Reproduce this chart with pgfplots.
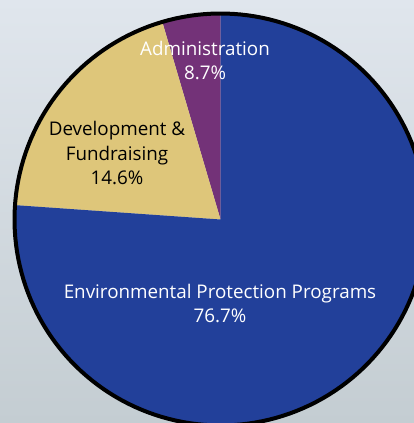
\documentclass[border=0pt]{standalone}
\usepackage{pgfplots}
\pgfplotsset{compat=1.18}
\usepackage{fontspec}
\setmainfont{Open Sans}

\definecolor{envblue}{RGB}{34,64,154}
\definecolor{admpurple}{RGB}{115,50,120}
\definecolor{devyellow}{RGB}{222,198,122}
\definecolor{bgtop}{RGB}{224,230,237}
\definecolor{bgbot}{RGB}{196,205,210}

% shares as drawn in the picture (percent), counter-clockwise from the top
\def\admshare{4.56}
\def\devshare{19.33}
\def\envshare{76.11}
% centre and radius in picture pixels (y measured upwards)
\def\cx{220.5}
\def\cy{203.5}
\def\rr{206}

\pgfmathsetmacro\aA{90}
\pgfmathsetmacro\aB{\aA+3.6*\admshare}
\pgfmathsetmacro\aC{\aB+3.6*\devshare}
\pgfmathsetmacro\aD{\aC+3.6*\envshare}

\begin{document}
\begin{tikzpicture}
\begin{axis}[
  scale only axis,
  width=414pt, height=423pt,
  xmin=0, xmax=414, ymin=0, ymax=423,
  hide axis,
  axis background/.style={top color=bgtop, bottom color=bgbot},
  variable=\t,
]
\addplot[draw=none, fill=admpurple, domain=\aA:\aB, samples=20]
  ({\cx+\rr*cos(t)},{\cy+\rr*sin(t)}) -- (axis cs:\cx,\cy) -- cycle;
\addplot[draw=none, fill=devyellow, domain=\aB:\aC, samples=40]
  ({\cx+\rr*cos(t)},{\cy+\rr*sin(t)}) -- (axis cs:\cx,\cy) -- cycle;
\addplot[draw=none, fill=envblue, domain=\aC:\aD, samples=120]
  ({\cx+\rr*cos(t)},{\cy+\rr*sin(t)}) -- (axis cs:\cx,\cy) -- cycle;
\addplot[black, line width=4pt, domain=0:360, samples=180]
  ({\cx+\rr*cos(t)},{\cy+\rr*sin(t)}) -- cycle;

% anchor=base sits on the last line of each label
\node[white, align=center, font=\fontsize{18.8}{24.5}\selectfont, anchor=base]
  at (axis cs:205,343) {Administration\\8.7\%};
\node[black, align=center, font=\fontsize{18.8}{24.5}\selectfont, anchor=base]
  at (axis cs:117,238) {Development \&\\Fundraising\\14.6\%};
\node[white, align=center, font=\fontsize{18.8}{24.5}\selectfont, anchor=base]
  at (axis cs:220,100) {Environmental Protection Programs\\76.7\%};
\end{axis}
\end{tikzpicture}
\end{document}
